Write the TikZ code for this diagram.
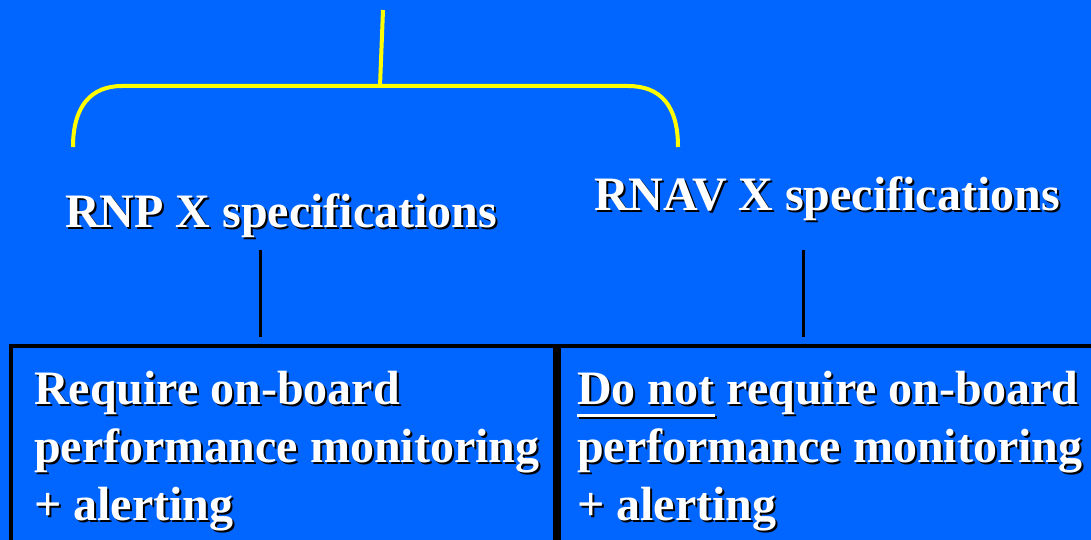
\documentclass[tikz,border=0pt]{standalone}
\usepackage{fontspec}
\setmainfont{Liberation Serif}
\definecolor{slideblue}{RGB}{0,102,255}
\definecolor{braceyellow}{RGB}{255,255,0}
\newsavebox{\ulsave}
\newcommand{\ulword}[1]{\sbox\ulsave{#1}\rlap{\rule[-12.5pt]{\wd\ulsave}{3pt}}\usebox\ulsave}
\tikzset{
  bigbold/.style={font=\fontsize{48}{58}\selectfont\bfseries},
  heading/.style={bigbold,text=white,inner sep=0pt,anchor=base west},
  boxtext/.style={bigbold,text=white,inner sep=0pt,anchor=north west,align=left},
  specbox/.style={draw=black,line width=4pt,outer sep=0pt,anchor=north west,minimum height=230},
  stem/.style={draw=black,line width=3pt,shorten >=9pt},
  yellowline/.style={draw=braceyellow,line width=4pt},
}
% text with a dark drop shadow: style, name, position, text
\newcommand{\shadownode}[4]{%
  \node[#1,text=black,shift={(2,2)}] at (#3) {#4};
  \node[#1] (#2) at (#3) {#4};}
\begin{document}
\begin{tikzpicture}[x=1pt,y=-1pt]
  \useasboundingbox (0,0) rectangle (1091,540);
  \clip (0,0) rectangle (1091,540);
  \fill[slideblue] (0,0) rectangle (1091,540); %background
  \coordinate (root) at (383,10);
  \coordinate (fork) at (380,86);
  \draw[yellowline] (root) -- (fork); %stem of brace
  \draw[yellowline] (73,147) .. controls (73,105) and (92,86) .. (122,86) -- (628,86)
    .. controls (660,86) and (678,105) .. (678,147); %brace
  \shadownode{heading}{rnp}{65,227}{RNP X specifications}
  \shadownode{heading}{rnav}{594,210}{RNAV X specifications}
  \node[specbox,minimum width=544] (reqbox) at (11,346) {}; %left box
  \node[specbox,minimum width=545] (noreqbox) at (559,346) {}; %right box
  \coordinate (rnpstem) at (260,250);
  \coordinate (rnavstem) at (803,250);
  \draw[stem] (rnpstem) -- (rnpstem |- reqbox.north); %left connector
  \draw[stem] (rnavstem) -- (rnavstem |- noreqbox.north); %right connector
  \shadownode{boxtext}{reqtext}{34,371}{Require on-board\\performance monitoring\\+ alerting}
  \shadownode{boxtext}{noreqtext}{577,371}{\ulword{Do not} require on-board\\performance monitoring\\+ alerting}
\end{tikzpicture}
\end{document}
